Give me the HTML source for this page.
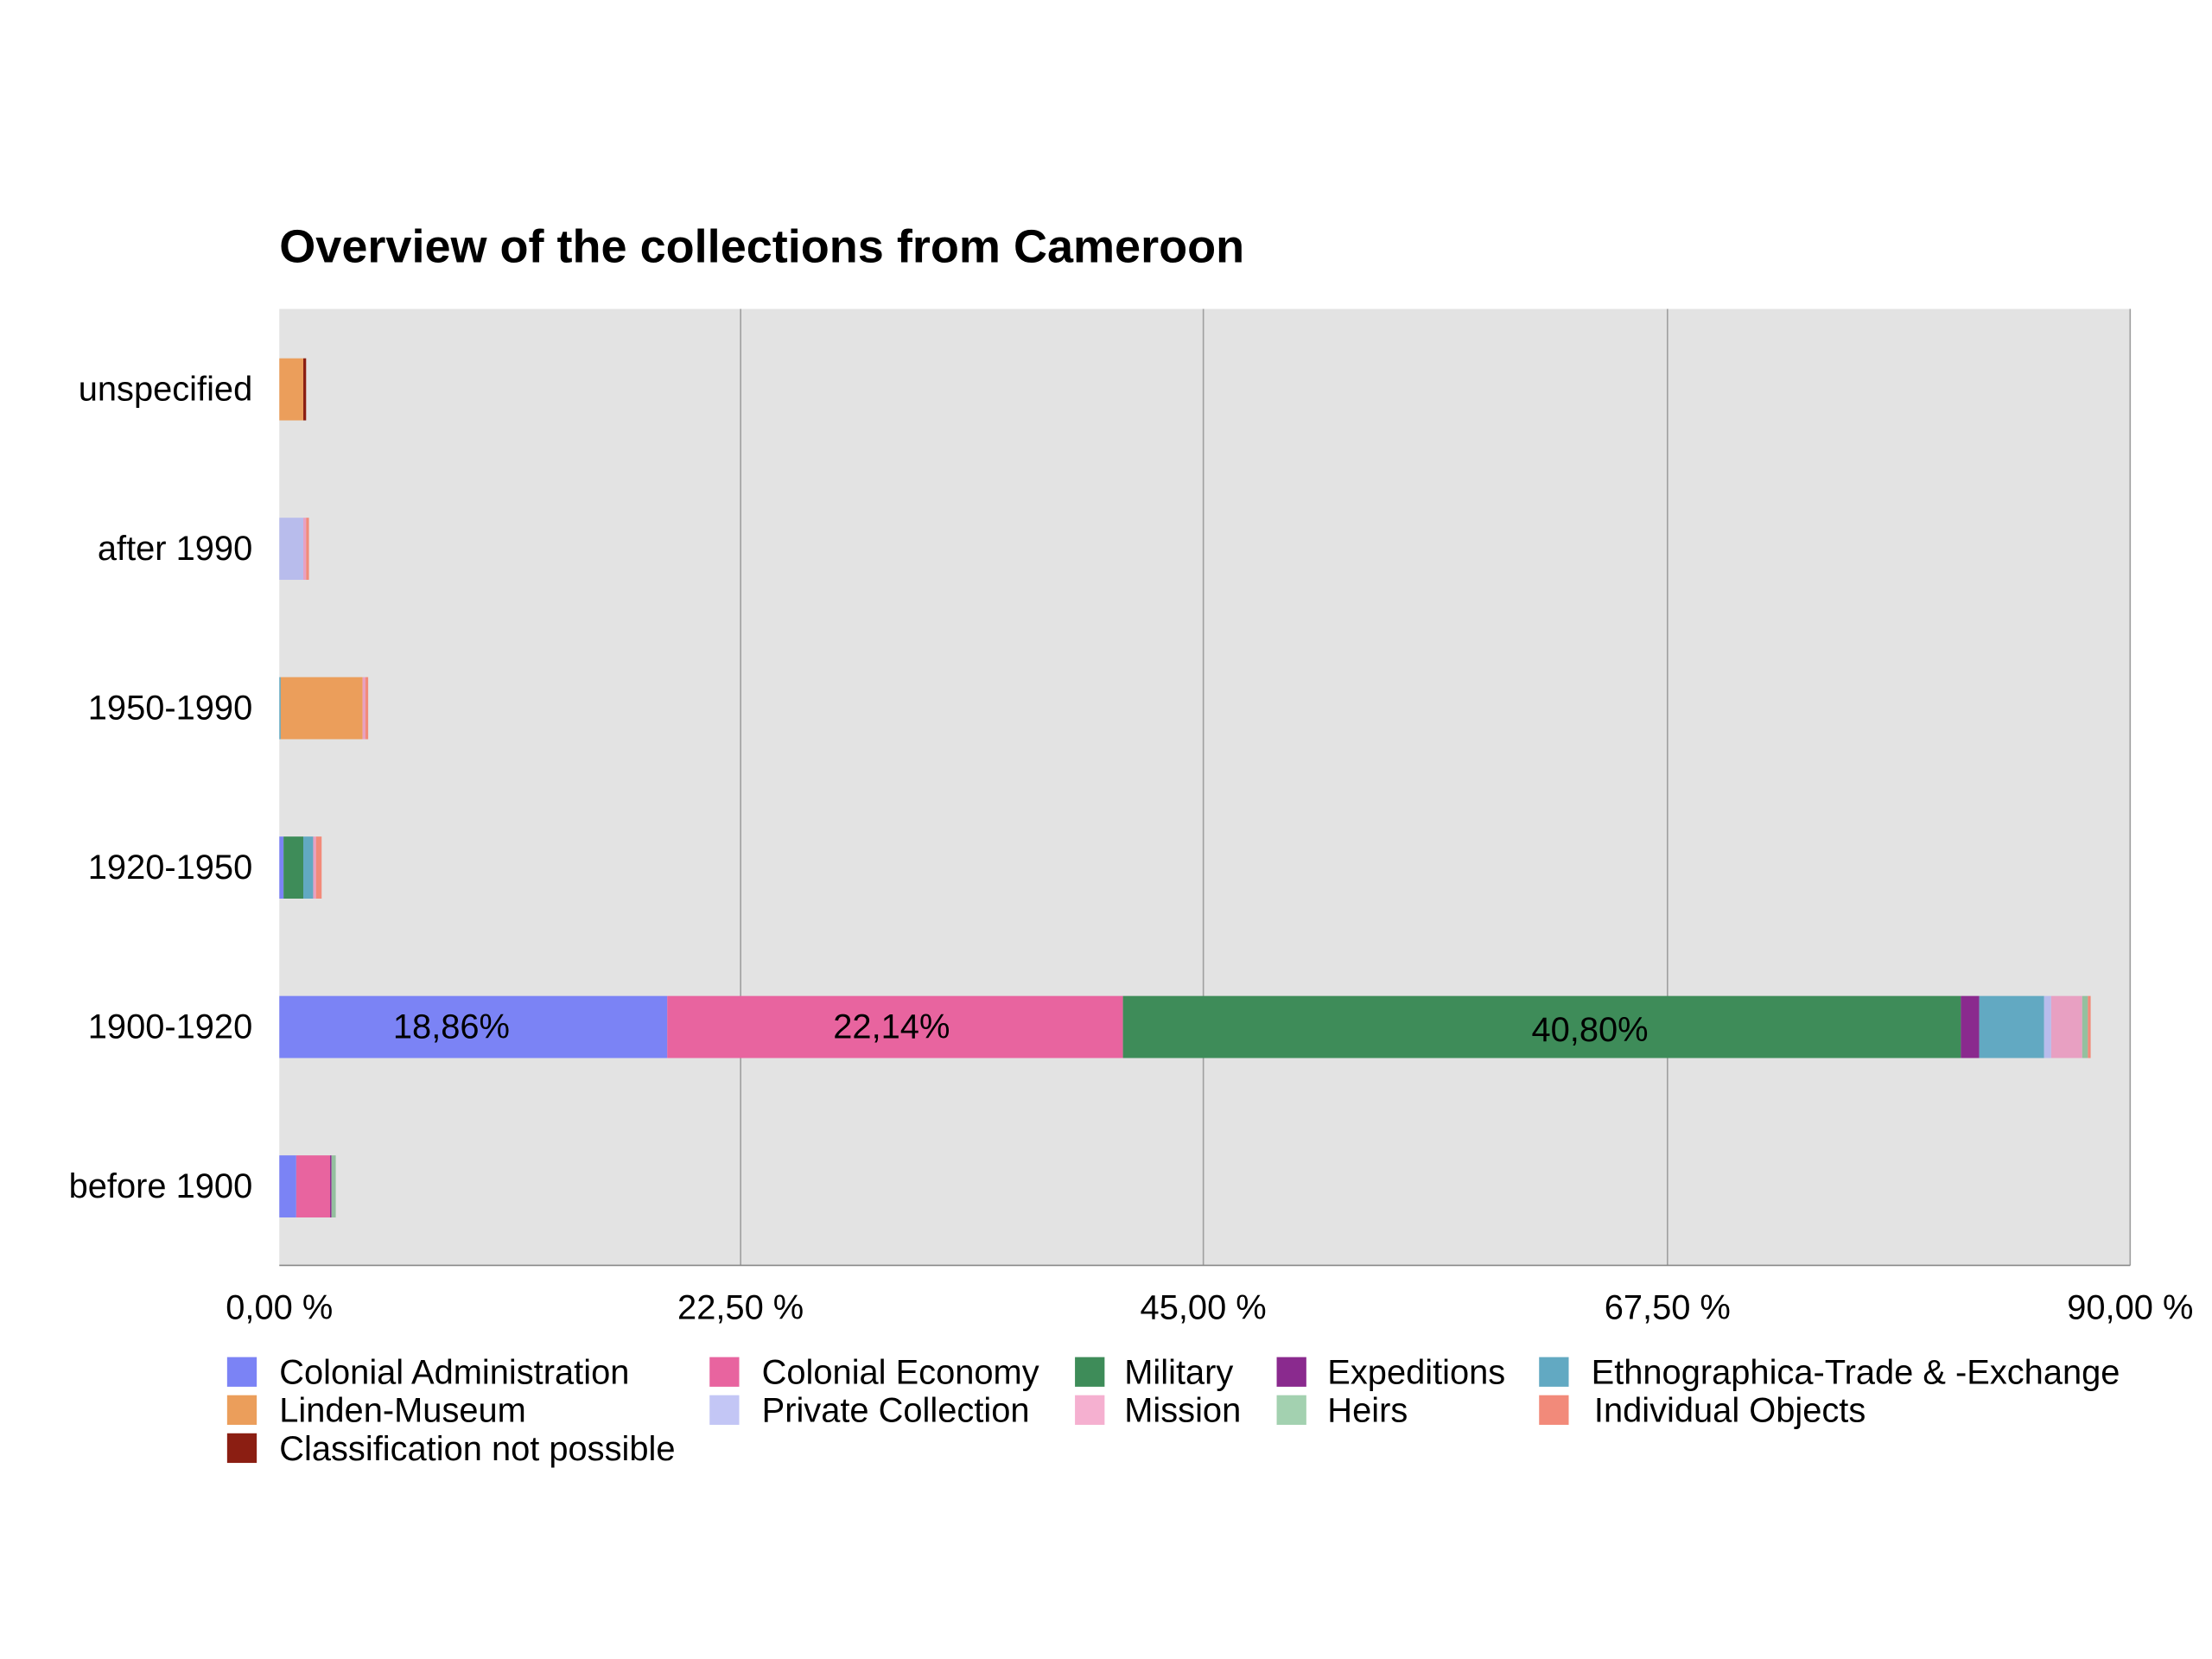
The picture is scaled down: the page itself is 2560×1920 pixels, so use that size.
<!DOCTYPE html>
<html><head><meta charset="utf-8"><style>html,body{margin:0;padding:0;background:#fff}svg{display:block}</style></head>
<body>
<svg width="2560" height="1920" viewBox="0 0 1568 1176" xmlns="http://www.w3.org/2000/svg" font-family="Liberation Sans, Arial, sans-serif">
<rect width="1568" height="1176" fill="#fff"/>
<text x="198" y="186" font-size="33.1" font-weight="bold" fill="#000">Overview of the collections from Cameroon</text>
<rect x="198" y="219" width="1312" height="678" fill="#e3e3e3"/>
<g stroke="#a0a0a0" stroke-width="1">
<line x1="525" y1="219" x2="525" y2="897"/><line x1="853" y1="219" x2="853" y2="897"/><line x1="1182" y1="219" x2="1182" y2="897"/><line x1="1510" y1="219" x2="1510" y2="897"/>
</g>
<line x1="198" y1="897" x2="1510" y2="897" stroke="#888" stroke-width="1"/>
<rect x="198" y="254" width="17" height="44" fill="#eb9e5b"/><rect x="215" y="254" width="2" height="44" fill="#8b1e12"/>
<rect x="198" y="367" width="17" height="44" fill="#b8bcec"/><rect x="215" y="367" width="2" height="44" fill="#e8a0c2"/><rect x="217" y="367" width="2" height="44" fill="#f28a7a"/>
<rect x="198" y="480" width="1" height="44" fill="#62a9c2"/><rect x="199" y="480" width="58" height="44" fill="#eb9e5b"/><rect x="257" y="480" width="2" height="44" fill="#e8a0c2"/><rect x="259" y="480" width="2" height="44" fill="#f28a7a"/>
<rect x="198" y="593" width="3" height="44" fill="#7b83f5"/><rect x="201" y="593" width="14" height="44" fill="#3e8c59"/><rect x="215" y="593" width="7" height="44" fill="#62a9c2"/><rect x="222" y="593" width="2" height="44" fill="#e8a0c2"/><rect x="224" y="593" width="4" height="44" fill="#f28a7a"/>
<rect x="198" y="706" width="275" height="44" fill="#7b83f5"/>
<rect x="473" y="706" width="323" height="44" fill="#e8649f"/>
<rect x="796" y="706" width="594" height="44" fill="#3e8c59"/>
<rect x="1390" y="706" width="13" height="44" fill="#8a2a8e"/>
<rect x="1403" y="706" width="46" height="44" fill="#62a9c2"/>
<rect x="1449" y="706" width="5" height="44" fill="#b8bcec"/>
<rect x="1454" y="706" width="22" height="44" fill="#e8a0c2"/>
<rect x="1476" y="706" width="4" height="44" fill="#94c09f"/>
<rect x="1480" y="706" width="2" height="44" fill="#f28a7a"/>
<g font-size="24.4" fill="#000" text-anchor="middle">
<text x="320" y="736">18,86%</text><text x="632" y="736">22,14%</text><text x="1127" y="738">40,80%</text>
</g>
<rect x="198" y="819" width="12" height="44" fill="#7b83f5"/><rect x="210" y="819" width="24" height="44" fill="#e8649f"/><rect x="234" y="819" width="1" height="44" fill="#8a2a8e"/><rect x="235" y="819" width="3" height="44" fill="#94c09f"/>
<g font-size="24.4" fill="#000" text-anchor="end">
<text x="179" y="284">unspecified</text><text x="179" y="397">after 1990</text><text x="179" y="510">1950-1990</text><text x="179" y="623">1920-1950</text><text x="179" y="736">1900-1920</text><text x="179" y="849">before 1900</text>
</g>
<g font-size="24.4" fill="#000" text-anchor="middle">
<text x="198" y="935">0,00 %</text><text x="525" y="935">22,50 %</text><text x="853" y="935">45,00 %</text><text x="1182" y="935">67,50 %</text><text x="1510" y="935">90,00 %</text>
</g>
<g font-size="24.4" fill="#000">
<rect x="161" y="962" width="21" height="21" fill="#7b83f5"/><text x="198" y="981">Colonial Administration</text>
<rect x="503" y="962" width="21" height="21" fill="#e8649f"/><text x="540" y="981">Colonial Economy</text>
<rect x="762" y="962" width="21" height="21" fill="#3e8c59"/><text x="797" y="981">Military</text>
<rect x="905" y="962" width="21" height="21" fill="#8a2a8e"/><text x="941" y="981">Expeditions</text>
<rect x="1091" y="962" width="21" height="21" fill="#62a9c2"/><text x="1128" y="981">Ethnographica-Trade &amp; -Exchange</text>
<rect x="161" y="989" width="21" height="21" fill="#eb9e5b"/><text x="198" y="1008">Linden-Museum</text>
<rect x="503" y="989" width="21" height="21" fill="#c3c6f5"/><text x="540" y="1008">Private Collection</text>
<rect x="762" y="989" width="21" height="21" fill="#f5b0d0"/><text x="797" y="1008">Mission</text>
<rect x="905" y="989" width="21" height="21" fill="#a3d1b0"/><text x="941" y="1008">Heirs</text>
<rect x="1091" y="989" width="21" height="21" fill="#f28a7a"/><text x="1130" y="1008">Individual Objects</text>
<rect x="161" y="1016" width="21" height="21" fill="#8b1e12"/><text x="198" y="1035">Classification not possible</text>
</g>
</svg>
</body></html>
